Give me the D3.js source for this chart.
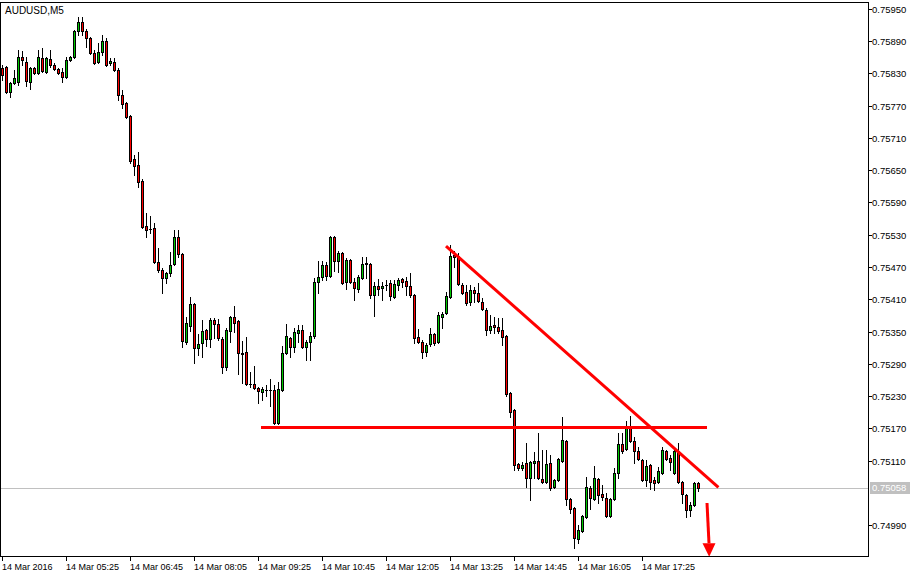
<!DOCTYPE html>
<html><head><meta charset="utf-8">
<script src="https://cdn.jsdelivr.net/npm/d3@7"></script>
<style>
html,body{margin:0;padding:0;background:#fff;}
svg{display:block;}
text{font-family:"Liberation Sans",Arial,sans-serif;}
</style></head><body>
<svg id="c" width="921" height="578"></svg>
<script>
const symbol = "AUDUSD,M5";
const opens = [0.75840,0.75842,0.75796,0.75812,0.75814,0.75861,0.75851,0.75814,0.75840,0.75831,
0.75859,0.75833,0.75857,0.75846,0.75838,0.75833,0.75823,0.75855,0.75861,0.75909,
0.75926,0.75909,0.75896,0.75868,0.75851,0.75870,0.75890,0.75850,0.75851,0.75837,
0.75790,0.75775,0.75751,0.75671,0.75660,0.75630,0.75546,0.75541,0.75543,0.75479,
0.75464,0.75450,0.75459,0.75476,0.75526,0.75494,0.75330,0.75360,0.75401,0.75319,
0.75329,0.75353,0.75336,0.75371,0.75364,0.75336,0.75284,0.75351,0.75377,0.75370,
0.75310,0.75312,0.75252,0.75252,0.75245,0.75237,0.75241,0.75241,0.75241,0.75180,
0.75241,0.75310,0.75338,0.75321,0.75347,0.75353,0.75321,0.75330,0.75342,0.75442,
0.75451,0.75474,0.75453,0.75526,0.75481,0.75496,0.75442,0.75483,0.75442,0.75429,
0.75450,0.75476,0.75476,0.75418,0.75435,0.75431,0.75436,0.75440,0.75414,0.75436,
0.75448,0.75444,0.75435,0.75418,0.75340,0.75330,0.75312,0.75327,0.75345,0.75330,
0.75377,0.75384,0.75414,0.75492,0.75491,0.75436,0.75424,0.75405,0.75427,0.75422,
0.75405,0.75390,0.75353,0.75362,0.75358,0.75353,0.75342,0.75236,0.75204,0.75103,
0.75096,0.75105,0.75077,0.75105,0.75109,0.75076,0.75070,0.75105,0.75061,0.75074,
0.75109,0.75146,0.75038,0.75022,0.74964,0.74979,0.75005,0.75059,0.75038,0.75076,
0.75048,0.75040,0.75007,0.75038,0.75087,0.75141,0.75131,0.75170,0.75146,0.75128,
0.75111,0.75074,0.75102,0.75074,0.75070,0.75087,0.75128,0.75115,0.75087,0.75128,
0.75070,0.75046,0.75018,0.75027,0.75068];
const highs = [0.75846,0.75844,0.75814,0.75837,0.75874,0.75872,0.75861,0.75842,0.75842,0.75874,
0.75877,0.75861,0.75874,0.75850,0.75840,0.75840,0.75861,0.75863,0.75911,0.75935,
0.75935,0.75913,0.75898,0.75874,0.75887,0.75902,0.75896,0.75859,0.75859,0.75840,
0.75799,0.75777,0.75753,0.75678,0.75684,0.75634,0.75570,0.75565,0.75552,0.75505,
0.75468,0.75461,0.75498,0.75539,0.75539,0.75496,0.75377,0.75414,0.75403,0.75345,
0.75371,0.75355,0.75375,0.75375,0.75373,0.75340,0.75357,0.75379,0.75397,0.75371,
0.75332,0.75340,0.75275,0.75286,0.75247,0.75247,0.75250,0.75262,0.75250,0.75256,
0.75323,0.75364,0.75340,0.75357,0.75362,0.75362,0.75334,0.75349,0.75450,0.75481,
0.75481,0.75479,0.75528,0.75528,0.75500,0.75498,0.75487,0.75485,0.75450,0.75455,
0.75489,0.75489,0.75477,0.75442,0.75448,0.75442,0.75446,0.75446,0.75446,0.75450,
0.75450,0.75451,0.75459,0.75420,0.75355,0.75334,0.75329,0.75357,0.75347,0.75386,
0.75386,0.75424,0.75511,0.75500,0.75496,0.75440,0.75436,0.75436,0.75433,0.75440,
0.75412,0.75394,0.75381,0.75377,0.75375,0.75375,0.75343,0.75237,0.75206,0.75105,
0.75107,0.75143,0.75109,0.75126,0.75161,0.75130,0.75130,0.75120,0.75076,0.75115,
0.75191,0.75148,0.75040,0.75023,0.74990,0.75009,0.75079,0.75063,0.75100,0.75077,
0.75064,0.75050,0.75040,0.75096,0.75161,0.75161,0.75183,0.75193,0.75154,0.75135,
0.75113,0.75111,0.75103,0.75079,0.75098,0.75135,0.75130,0.75120,0.75135,0.75143,
0.75072,0.75048,0.75033,0.75070,0.75070];
const lows = [0.75818,0.75794,0.75786,0.75810,0.75809,0.75846,0.75807,0.75801,0.75829,0.75829,
0.75833,0.75831,0.75842,0.75837,0.75829,0.75814,0.75822,0.75853,0.75859,0.75902,
0.75902,0.75879,0.75866,0.75848,0.75850,0.75864,0.75844,0.75846,0.75835,0.75781,
0.75766,0.75747,0.75664,0.75641,0.75619,0.75543,0.75526,0.75533,0.75477,0.75461,
0.75422,0.75440,0.75453,0.75474,0.75489,0.75321,0.75327,0.75351,0.75291,0.75306,
0.75303,0.75323,0.75321,0.75338,0.75334,0.75273,0.75278,0.75330,0.75349,0.75271,
0.75254,0.75250,0.75247,0.75243,0.75217,0.75223,0.75230,0.75211,0.75178,0.75178,
0.75239,0.75308,0.75303,0.75312,0.75330,0.75319,0.75297,0.75297,0.75338,0.75422,
0.75446,0.75446,0.75451,0.75463,0.75461,0.75438,0.75429,0.75440,0.75409,0.75423,
0.75448,0.75450,0.75412,0.75379,0.75418,0.75409,0.75427,0.75409,0.75412,0.75427,
0.75433,0.75418,0.75414,0.75329,0.75329,0.75301,0.75304,0.75323,0.75325,0.75329,
0.75357,0.75383,0.75412,0.75470,0.75436,0.75420,0.75399,0.75399,0.75405,0.75405,
0.75390,0.75343,0.75347,0.75347,0.75347,0.75325,0.75230,0.75191,0.75092,0.75092,
0.75092,0.75061,0.75037,0.75077,0.75076,0.75068,0.75068,0.75055,0.75059,0.75072,
0.75107,0.75027,0.75012,0.74947,0.74956,0.74977,0.75003,0.75020,0.75037,0.75031,
0.75037,0.75005,0.75005,0.75037,0.75077,0.75124,0.75130,0.75144,0.75105,0.75111,
0.75072,0.75063,0.75057,0.75055,0.75068,0.75085,0.75111,0.75092,0.75085,0.75068,
0.75031,0.75005,0.75007,0.75025,0.75053];
const closes = [0.75827,0.75796,0.75812,0.75822,0.75861,0.75855,0.75816,0.75840,0.75831,0.75861,
0.75835,0.75859,0.75846,0.75838,0.75831,0.75823,0.75855,0.75861,0.75909,0.75926,
0.75909,0.75896,0.75868,0.75850,0.75870,0.75890,0.75846,0.75853,0.75837,0.75790,
0.75773,0.75749,0.75667,0.75658,0.75628,0.75544,0.75539,0.75541,0.75479,0.75464,
0.75450,0.75459,0.75474,0.75526,0.75494,0.75332,0.75366,0.75401,0.75319,0.75327,
0.75351,0.75336,0.75371,0.75364,0.75338,0.75284,0.75353,0.75377,0.75366,0.75310,
0.75308,0.75252,0.75252,0.75245,0.75239,0.75243,0.75241,0.75241,0.75180,0.75243,
0.75310,0.75342,0.75321,0.75349,0.75353,0.75321,0.75330,0.75342,0.75442,0.75451,
0.75474,0.75453,0.75526,0.75481,0.75496,0.75440,0.75483,0.75442,0.75431,0.75451,
0.75476,0.75477,0.75418,0.75435,0.75429,0.75435,0.75436,0.75416,0.75438,0.75446,
0.75442,0.75435,0.75418,0.75338,0.75330,0.75312,0.75325,0.75345,0.75329,0.75381,
0.75383,0.75416,0.75491,0.75489,0.75438,0.75422,0.75403,0.75427,0.75422,0.75407,
0.75392,0.75353,0.75360,0.75358,0.75351,0.75340,0.75234,0.75200,0.75102,0.75096,
0.75102,0.75077,0.75107,0.75109,0.75077,0.75070,0.75103,0.75059,0.75074,0.75113,
0.75148,0.75038,0.75020,0.74966,0.74981,0.75007,0.75061,0.75040,0.75077,0.75046,
0.75042,0.75007,0.75038,0.75087,0.75141,0.75128,0.75170,0.75146,0.75128,0.75113,
0.75074,0.75100,0.75070,0.75068,0.75090,0.75130,0.75113,0.75107,0.75128,0.75070,
0.75048,0.75018,0.75027,0.75068,0.75058];
const lastPrice = 0.75058;
const priceTicks = [0.75950,0.75890,0.75830,0.75770,0.75710,0.75650,0.75590,0.75530,0.75470,
0.75410,0.75350,0.75290,0.75230,0.75170,0.75110,0.74990];
const timeTickIndex = [0,16,32,48,64,80,96,112,128,144,160];
const timeTickLabels = ["14 Mar 2016","14 Mar 05:25","14 Mar 06:45","14 Mar 08:05","14 Mar 09:25",
"14 Mar 10:45","14 Mar 12:05","14 Mar 13:25","14 Mar 14:45","14 Mar 16:05","14 Mar 17:25"];
// drawn objects (bar index, price)
const supportLine = [[64.75,0.75172],[176.25,0.75172]];
const trendLine = [[111,0.75509],[179.1,0.75060]];
const arrowLine = [[176.25,0.75031],[176.75,0.74956],[176.8,0.74931]];

const bullColor = "#00c800", bearColor = "#ff0000", wickColor = "#000";
const svg = d3.select("#c");
const plotRight = 868, plotBottom = 556, plotTop = 2;

const x = d3.scaleLinear().domain([0, opens.length - 1]).range([2, 698]);
const y = d3.scaleLinear().domain([0.74990, 0.75950]).range([525, 9]);
const idx = d3.range(opens.length);

// last price line (behind candles)
const yl = Math.round(y(lastPrice)) + 0.5;
svg.append("line").attr("x1", 1).attr("x2", plotRight).attr("y1", yl).attr("y2", yl)
  .attr("stroke", "#c0c0c0").attr("stroke-width", 1).attr("shape-rendering","crispEdges");

// candles
const cg = svg.append("g").attr("shape-rendering", "crispEdges");
const col = i => Math.round(x(i));
const bTop = i => Math.round(y(Math.max(opens[i], closes[i])));
const bBot = i => Math.round(y(Math.min(opens[i], closes[i])));
cg.selectAll("rect.wick").data(idx).join("rect").attr("class","wick")
  .attr("x", i => col(i)).attr("y", i => Math.round(y(highs[i])))
  .attr("width", 1).attr("height", i => Math.round(y(lows[i])) - Math.round(y(highs[i])) + 1)
  .attr("fill", wickColor);
cg.selectAll("rect.body").data(idx).join("rect").attr("class","body")
  .attr("x", i => col(i) - 1)
  .attr("y", bTop)
  .attr("width", 3)
  .attr("height", i => bBot(i) - bTop(i) + 1)
  .attr("fill", wickColor);
cg.selectAll("rect.fill").data(idx.filter(i => bBot(i) - bTop(i) >= 2))
  .join("rect").attr("class","fill")
  .attr("x", i => col(i))
  .attr("y", i => bTop(i) + 1)
  .attr("width", 1)
  .attr("height", i => bBot(i) - bTop(i) - 1)
  .attr("fill", i => closes[i] > opens[i] ? bullColor : bearColor);

// drawn objects
const lineGen = d3.line().x(d => x(d[0])).y(d => y(d[1]));
svg.append("path").attr("d", lineGen(supportLine)).attr("stroke", "#ff0000").attr("stroke-width", 3)
  .attr("fill", "none").attr("shape-rendering","crispEdges");
svg.append("path").attr("d", lineGen(trendLine)).attr("stroke", "#ff0000").attr("stroke-width", 3)
  .attr("fill", "none");
svg.append("path").attr("d", lineGen(arrowLine.slice(0, 2))).attr("stroke", "#ff0000").attr("stroke-width", 3)
  .attr("fill", "none");
const ab = arrowLine[1], at = arrowLine[2];
svg.append("path")
  .attr("d", `M${x(ab[0]) - 6.5},${y(ab[1])}L${x(ab[0]) + 6.5},${y(ab[1])}L${x(at[0])},${y(at[1])}Z`)
  .attr("fill", "#ff0000");

// frame
svg.append("rect").attr("x", 0.5).attr("y", plotTop + 0.5).attr("width", plotRight).attr("height", plotBottom - plotTop)
  .attr("fill", "none").attr("stroke", "#000").attr("shape-rendering","crispEdges");

// price axis
const pa = svg.append("g").attr("shape-rendering","crispEdges");
priceTicks.forEach(p => {
  const yy = Math.round(y(p)) + 0.5;
  pa.append("line").attr("x1", plotRight + 1).attr("x2", plotRight + 4).attr("y1", yy).attr("y2", yy).attr("stroke", "#000");
  pa.append("text").attr("x", plotRight + 4).attr("y", yy).attr("dy", "0.35em")
    .attr("font-size", "9.5px").attr("fill", "#000").text(p.toFixed(5));
});
// last price label
const ly = Math.round(y(lastPrice));
svg.append("rect").attr("x", plotRight + 2).attr("y", ly - 6).attr("width", 40).attr("height", 12).attr("fill", "#c0c0c0");
svg.append("text").attr("x", plotRight + 4).attr("y", ly).attr("dy", "0.35em")
  .attr("font-size", "9.5px").attr("fill", "#fff").text(lastPrice.toFixed(5));

// time axis
const ta = svg.append("g");
timeTickIndex.forEach((t, j) => {
  const xx = col(t) + 0.5;
  ta.append("line").attr("x1", xx).attr("x2", xx).attr("y1", plotBottom + 1).attr("y2", plotBottom + 5)
    .attr("stroke", "#000").attr("shape-rendering","crispEdges");
  ta.append("text").attr("x", col(t)).attr("y", 569.5).attr("font-size", "9px").attr("fill", "#000")
    .text(timeTickLabels[j]);
});

// title
svg.append("text").attr("x", 5).attr("y", 13.5).attr("font-size", "10px").attr("fill", "#000").text(symbol);
</script>
</body></html>
